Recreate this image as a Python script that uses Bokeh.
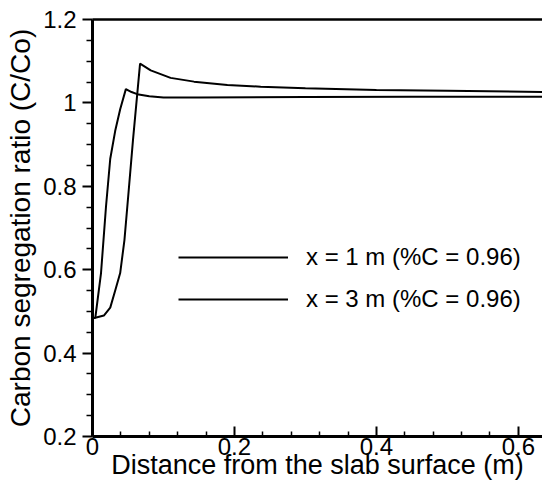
from bokeh.plotting import figure
from bokeh.models import Legend, LegendItem, FixedTicker, LinearAxis, Range1d
from bokeh.embed import file_html
from bokeh.resources import INLINE

# ---- data ----
dist_1m = [0.0, 0.004, 0.012, 0.019, 0.025, 0.032, 0.039, 0.047, 0.055, 0.063, 0.08, 0.1, 0.15, 0.3, 0.45, 0.65]
ratio_1m = [0.483, 0.485, 0.592, 0.751, 0.866, 0.933, 0.985, 1.033, 1.026, 1.021, 1.016, 1.013, 1.013, 1.014, 1.015, 1.015]

dist_3m = [0.0, 0.004, 0.016, 0.025, 0.032, 0.039, 0.045, 0.051, 0.057, 0.067, 0.082, 0.11, 0.143, 0.19, 0.237, 0.3, 0.4, 0.5, 0.65]
ratio_3m = [0.483, 0.485, 0.490, 0.509, 0.55, 0.592, 0.671, 0.790, 0.910, 1.094, 1.078, 1.060, 1.051, 1.043, 1.039, 1.035, 1.031, 1.029, 1.026]

series_labels = ["x = 1 m (%C = 0.96)", "x = 3 m (%C = 0.96)"]

x_ticks = [0.0, 0.2, 0.4, 0.6]
x_tick_labels = ["0", "0.2", "0.4", "0.6"]
x_minor = [0.04, 0.08, 0.12, 0.16, 0.24, 0.28, 0.32, 0.36, 0.44, 0.48, 0.52, 0.56, 0.64]
y_ticks = [0.2, 0.4, 0.6, 0.8, 1.0, 1.2]
y_tick_labels = ["0.2", "0.4", "0.6", "0.8", "1", "1.2"]
y_minor = [0.25, 0.3, 0.35, 0.45, 0.5, 0.55, 0.65, 0.7, 0.75, 0.85, 0.9, 0.95, 1.05, 1.1, 1.15]

FONT = "Liberation Sans"

p = figure(width=542, height=486,
           x_range=Range1d(0, 0.634), y_range=Range1d(0.2, 1.2),
           output_backend="svg", toolbar_location=None,
           min_border_left=92, min_border_right=0, min_border_top=19, min_border_bottom=50)
p.grid.visible = False
p.outline_line_color = None
p.background_fill_color = "white"
p.border_fill_color = "white"

r1 = p.line(dist_1m, ratio_1m, line_color="black", line_width=2)
r2 = p.line(dist_3m, ratio_3m, line_color="black", line_width=2)

# x axis
xa = p.xaxis[0]
xa.ticker = FixedTicker(ticks=x_ticks, minor_ticks=x_minor)
xa.major_label_overrides = {t: l for t, l in zip(x_ticks, x_tick_labels)}
xa.axis_label = "Distance from the slab surface (m)"
xa.major_tick_in = 10
xa.major_tick_out = 0
xa.minor_tick_in = 5
xa.minor_tick_out = 0
xa.major_tick_line_width = 2
xa.minor_tick_line_width = 1.5
xa.axis_line_width = 3
xa.major_label_standoff = 1
xa.axis_label_standoff = -8

# y axis
ya = p.yaxis[0]
ya.ticker = FixedTicker(ticks=y_ticks, minor_ticks=y_minor)
ya.major_label_overrides = {t: l for t, l in zip(y_ticks, y_tick_labels)}
ya.axis_label = "Carbon segregation ratio (C/Co)"
ya.major_tick_in = 0
ya.major_tick_out = 10
ya.minor_tick_in = 0
ya.minor_tick_out = 6
ya.major_tick_line_width = 2
ya.minor_tick_line_width = 1.5
ya.axis_line_width = 3
ya.major_label_standoff = 6
ya.axis_label_standoff = 4

for ax in (xa, ya):
    ax.major_label_text_font = FONT
    ax.major_label_text_font_size = "24px"
    ax.major_label_text_color = "black"
    ax.axis_label_text_font = FONT
    ax.axis_label_text_font_style = "normal"
    ax.axis_label_text_color = "black"
    ax.axis_line_color = "black"
    ax.major_tick_line_color = "black"
    ax.minor_tick_line_color = "black"
xa.axis_label_text_font_size = "27px"
ya.axis_label_text_font_size = "28px"

# top border line
top = LinearAxis(ticker=FixedTicker(ticks=[]), major_tick_line_color=None,
                 minor_tick_line_color=None, major_label_text_font_size="0px",
                 axis_line_width=2.5, axis_line_color="black")
p.add_layout(top, "above")

legend = Legend(items=[LegendItem(label=series_labels[0], renderers=[r1]),
                       LegendItem(label=series_labels[1], renderers=[r2])],
                location=(86, 122), orientation="vertical",
                glyph_width=110, glyph_height=30, label_height=30,
                spacing=12, padding=0, margin=0, label_standoff=18,
                border_line_color=None, background_fill_alpha=0,
                label_text_font=FONT, label_text_font_size="24px",
                label_text_color="black")
p.add_layout(legend, "center")

open("out.html", "w").write(file_html(p, INLINE))
